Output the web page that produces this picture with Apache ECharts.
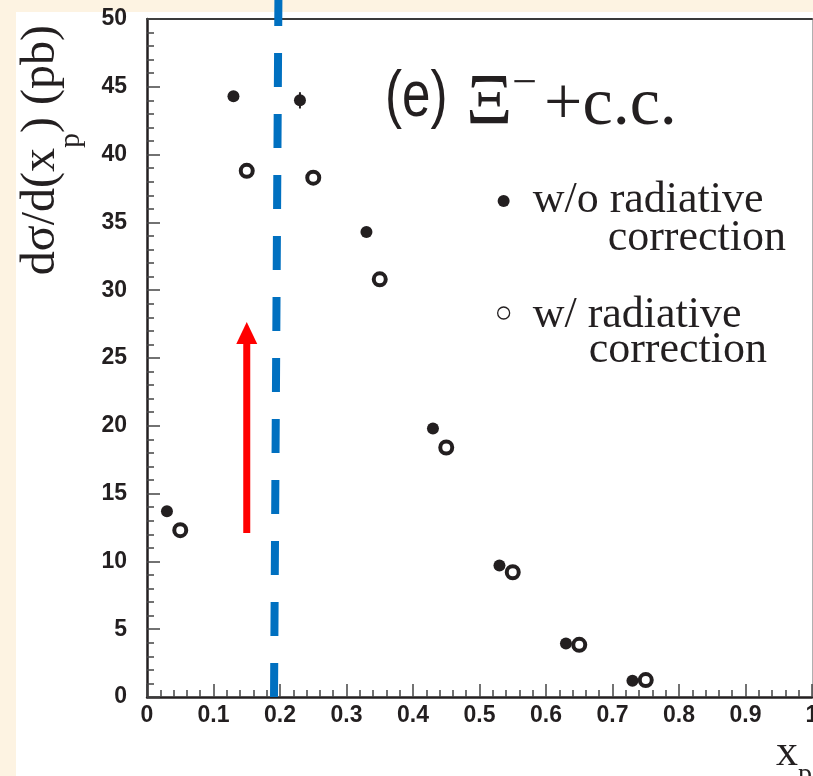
<!DOCTYPE html>
<html>
<head>
<meta charset="utf-8">
<style>
  html, body { margin: 0; padding: 0; background: #fdf3e2; }
  #chart { width: 813px; height: 776px; }
</style>
<script src="https://cdn.jsdelivr.net/npm/echarts@6/dist/echarts.min.js"></script>
</head>
<body>
<div id="chart"></div>
<script>
// Differential cross section dσ/d(x_p) for Ξ⁻ + c.c.
const xFilled = [0.03, 0.13, 0.23, 0.33, 0.43, 0.53, 0.63, 0.73];
const yFilled = [13.7, 44.3, 44.0, 34.3, 19.8, 9.7, 3.95, 1.2];
const errFilled = [0, 0, 0.6, 0, 0, 0, 0, 0];

const xOpen = [0.05, 0.15, 0.25, 0.35, 0.45, 0.55, 0.65, 0.75];
const yOpen = [12.3, 38.8, 38.3, 30.8, 18.4, 9.2, 3.85, 1.25];

// slanted dashed cut line (x, y at both ends)
const cutX = [0.191, 0.1976];
const cutY = [0, 51.4];

// red arrow: x, base, tip
const arrowX = [0.15];
const arrowBase = [12.1];
const arrowTip = [27.65];

const xTickLabels = ['0', '0.1', '0.2', '0.3', '0.4', '0.5', '0.6', '0.7', '0.8', '0.9', '1'];
const yTickLabels = ['0', '5', '10', '15', '20', '25', '30', '35', '40', '45', '50'];

const seriesNames = ['w/o radiative correction', 'w/ radiative correction'];
const legendFirst = ['w/o radiative', 'w/ radiative'];
const legendSecond = ['correction', 'correction'];

const panelTag = '(e)';
const particleText = '{b|Ξ}{c|−}{d|+c.c.}';

const INK = '#231f20';
const SERIF = '"Liberation Serif", "Times New Roman", serif';
const SANS = '"Liberation Sans", Arial, sans-serif';

const filledData = xFilled.map((x, i) => [x, yFilled[i]]);
const openData = xOpen.map((x, i) => [x, yOpen[i]]);
const errData = xFilled
  .map((x, i) => [x, yFilled[i] - errFilled[i], yFilled[i] + errFilled[i], errFilled[i]])
  .filter(d => d[3] > 0);
const cutData = cutX.map((x, i) => [x, cutY[i]]);
const arrowData = arrowX.map((x, i) => [x, arrowBase[i], arrowTip[i]]);

const particleRich = {
  b: { fontFamily: SERIF, fontSize: 72, lineHeight: 84, verticalAlign: 'bottom', fill: INK },
  c: { fontFamily: SERIF, fontSize: 44, lineHeight: 44, verticalAlign: 'bottom', padding: [0, 0, 34, 0], fill: INK },
  d: { fontFamily: SERIF, fontSize: 68, lineHeight: 82, verticalAlign: 'bottom', padding: [0, 0, 0, 7], fill: INK }
};

const yNameRich = {
  m: { fontFamily: SERIF, fontSize: 48, lineHeight: 54, color: INK },
  s: { fontFamily: SERIF, fontSize: 30, lineHeight: 30, padding: [60, 0, 0, 0], color: INK }
};
const xNameRich = {
  m: { fontFamily: SERIF, fontSize: 44, lineHeight: 50, color: INK },
  s: { fontFamily: SERIF, fontSize: 28, lineHeight: 28, padding: [44, 0, 0, 0], color: INK }
};

const chart = echarts.init(document.getElementById('chart'), null, { renderer: 'canvas' });

chart.setOption({
  animation: false,
  backgroundColor: '#fdf3e2',
  graphic: [{
    type: 'rect',
    z: -100,
    shape: { x: 16, y: 12, width: 797, height: 764 },
    style: { fill: '#ffffff' },
    silent: true
  }, {
    // narrow sans panel tag
    type: 'text',
    x: 385,
    y: 66,
    scaleX: 0.8,
    z: 10,
    style: {
      text: panelTag,
      fontFamily: SANS,
      fontSize: 64,
      lineHeight: 64,
      fill: INK,
      align: 'left',
      verticalAlign: 'top'
    }
  }, {
    type: 'text',
    x: 466,
    y: 56,
    z: 10,
    style: {
      text: particleText,
      rich: particleRich,
      fill: INK,
      align: 'left',
      verticalAlign: 'top'
    }
  }],
  legend: {
    orient: 'vertical',
    left: 497,
    top: 158,
    padding: 0,
    itemGap: 13,
    itemWidth: 12,
    itemHeight: 12,
    selectedMode: false,
    data: [
      { name: seriesNames[0], icon: 'circle', itemStyle: { color: INK, borderWidth: 0, opacity: 1 } },
      { name: seriesNames[1], icon: 'circle', itemStyle: { color: '#ffffff', borderColor: INK, borderWidth: 1.3, opacity: 1 } }
    ],
    formatter: function (name) {
      const i = seriesNames.indexOf(name);
      return '{g| }\n{a|' + legendFirst[i] + '}\n{' + (i === 0 ? 'b' : 'c') + '|' + legendSecond[i] + '}';
    },
    textStyle: {
      color: INK,
      fontFamily: SERIF,
      fontSize: 44,
      rich: {
        g: { fontSize: 10, lineHeight: 37 },
        a: { fontFamily: SERIF, fontSize: 44, lineHeight: 37, color: INK, padding: [0, 0, 0, 18] },
        b: { fontFamily: SERIF, fontSize: 44, lineHeight: 39, color: INK, padding: [0, 0, 0, 93] },
        c: { fontFamily: SERIF, fontSize: 44, lineHeight: 33, color: INK, padding: [0, 0, 0, 74] }
      }
    }
  },
  grid: { left: 147, right: 1, top: 19, bottom: 79, containLabel: false, outerBoundsMode: 'none' },
  xAxis: [{
    type: 'value',
    min: 0, max: 1, interval: 0.1,
    position: 'bottom',
    name: '{m|x}{s|p}',
    nameLocation: 'end',
    nameGap: 0,
    nameMoveOverlap: false,
    nameTextStyle: { align: 'right', verticalAlign: 'top', padding: [31, 0, 0, 0], rich: xNameRich },
    axisLine: { show: true, onZero: false, lineStyle: { color: INK, width: 2.5 } },
    axisTick: { show: true, inside: true, length: 13, lineStyle: { color: '#444', width: 1.5 } },
    minorTick: { show: true, splitNumber: 5, length: 7, lineStyle: { color: '#444', width: 1.5 } },
    axisLabel: {
      margin: 7,
      color: INK,
      fontFamily: SANS,
      fontWeight: 'bold',
      fontSize: 23,
      formatter: (v, i) => xTickLabels[i]
    },
    splitLine: { show: false },
    minorSplitLine: { show: false }
  }, {
    type: 'value',
    min: 0, max: 1,
    position: 'top',
    axisLine: { show: true, onZero: false, lineStyle: { color: '#3a3a3a', width: 2 } },
    axisTick: { show: false },
    axisLabel: { show: false },
    splitLine: { show: false }
  }],
  yAxis: [{
    type: 'value',
    min: 0, max: 50, interval: 5,
    position: 'left',
    name: '{m|dσ/d(x}{s|p}{m|) (pb)}',
    nameLocation: 'end',
    nameRotate: 90,
    nameGap: -6,
    nameMoveOverlap: false,
    nameTextStyle: { align: 'right', verticalAlign: 'bottom', padding: [0, 0, 79, 0], rich: yNameRich },
    axisLine: { show: true, onZero: false, lineStyle: { color: INK, width: 2.5 } },
    axisTick: { show: true, inside: true, length: 13, lineStyle: { color: '#444', width: 1.5 } },
    minorTick: { show: true, splitNumber: 5, length: 7, lineStyle: { color: '#444', width: 1.5 } },
    axisLabel: {
      margin: 20,
      color: INK,
      fontFamily: SANS,
      fontWeight: 'bold',
      fontSize: 23,
      formatter: (v, i) => yTickLabels[i]
    },
    splitLine: { show: false },
    minorSplitLine: { show: false }
  }, {
    type: 'value',
    min: 0, max: 50,
    position: 'right',
    axisLine: { show: true, onZero: false, lineStyle: { color: '#b0b0b0', width: 1 } },
    axisTick: { show: false },
    axisLabel: { show: false },
    splitLine: { show: false }
  }],
  series: [{
    name: seriesNames[0],
    type: 'scatter',
    symbol: 'circle',
    symbolSize: 12,
    itemStyle: { color: INK, opacity: 1 },
    data: filledData,
    z: 4
  }, {
    name: seriesNames[1],
    type: 'scatter',
    symbol: 'circle',
    symbolSize: 12,
    itemStyle: { color: '#ffffff', borderColor: INK, borderWidth: 4, opacity: 1 },
    data: openData,
    z: 4
  }, {
    name: 'errors',
    type: 'custom',
    data: errData,
    encode: { x: 0, y: [1, 2] },
    renderItem: function (params, api) {
      const lo = api.coord([api.value(0), api.value(1)]);
      const hi = api.coord([api.value(0), api.value(2)]);
      return {
        type: 'line',
        shape: { x1: lo[0], y1: lo[1], x2: hi[0], y2: hi[1] },
        style: { stroke: INK, lineWidth: 2 }
      };
    },
    z: 3
  }, {
    name: 'cut',
    type: 'line',
    data: cutData,
    clip: false,
    symbol: 'none',
    silent: true,
    lineStyle: { color: '#0070c0', width: 8, type: [34, 27], cap: 'butt' },
    z: 6
  }, {
    name: 'arrow',
    type: 'custom',
    data: arrowData,
    encode: { x: 0, y: [1, 2] },
    renderItem: function (params, api) {
      const base = api.coord([api.value(0), api.value(1)]);
      const tip = api.coord([api.value(0), api.value(2)]);
      const headH = 22, headW = 21, shaftW = 7;
      const neck = tip[1] + headH;
      return {
        type: 'group',
        children: [{
          type: 'rect',
          shape: { x: base[0] - shaftW / 2, y: neck - 1, width: shaftW, height: base[1] - neck + 1 },
          style: { fill: '#ff0000' }
        }, {
          type: 'polygon',
          shape: { points: [[tip[0], tip[1]], [tip[0] - headW / 2, neck], [tip[0] + headW / 2, neck]] },
          style: { fill: '#ff0000' }
        }]
      };
    },
    z: 5
  }]
});
</script>
</body>
</html>
